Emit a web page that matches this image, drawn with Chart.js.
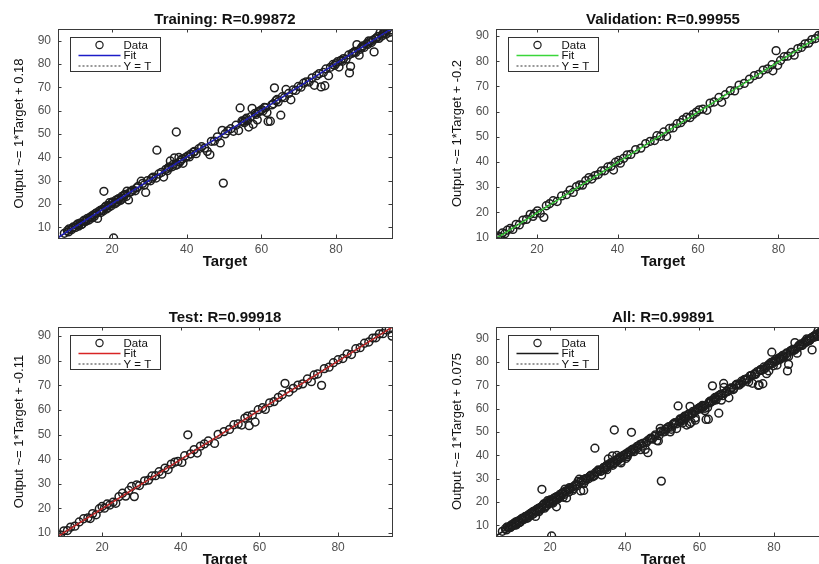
<!DOCTYPE html>
<html><head><meta charset="utf-8">
<script src="https://cdn.jsdelivr.net/npm/chart.js@4.4.0/dist/chart.umd.min.js"></script>
<style>
html,body{margin:0;padding:0;background:#fff;overflow:hidden;width:819px;height:564px;position:relative;}
canvas{position:absolute;}
</style></head><body>
<canvas id="c0" width="400" height="275" style="left:0px;top:0px"></canvas>
<canvas id="c1" width="400" height="275" style="left:438px;top:0px"></canvas>
<canvas id="c2" width="400" height="275" style="left:0px;top:298px"></canvas>
<canvas id="c3" width="400" height="275" style="left:438px;top:298px"></canvas>
<script>
// ---------- data ----------
const panelTitles = ['Training: R=0.99872', 'Validation: R=0.99955', 'Test: R=0.99918', 'All: R=0.99891'];
const yAxisLabels = ['Output ~= 1*Target + 0.18', 'Output ~= 1*Target + -0.2', 'Output ~= 1*Target + -0.11', 'Output ~= 1*Target + 0.075'];
const xAxisLabel = 'Target';
const fitSlopes = [1, 1, 1, 1];
const fitIntercepts = [0.18, -0.2, -0.11, 0.075];
const legendLabels = ['Data', 'Fit', 'Y = T'];
const xTickValues = [20, 40, 60, 80];
const yTickValues = [10, 20, 30, 40, 50, 60, 70, 80, 90];

// [Target, Output]
const trainingData = [
[7.2,7.5],[8.0,8.6],[8.3,8.1],[8.5,9.4],[9.1,9.0],[9.4,9.8],[9.6,10.2],[10.2,10.0],[10.5,11.1],[10.8,11.5],[11.0,10.6],
[11.4,11.9],[11.7,11.2],[12.0,11.5],[12.3,12.8],[12.6,13.1],[12.9,12.6],[13.1,12.9],[13.4,13.9],[13.8,13.2],[14.0,14.2],
[14.3,14.6],[14.6,14.1],[14.9,15.3],[15.2,14.7],[15.5,15.9],[15.8,16.2],[16.1,13.9],[16.5,16.9],[16.8,17.3],[17.0,16.4],
[17.4,17.8],[17.6,17.1],[17.8,25.5],[18.1,18.7],[18.3,19.1],[18.5,17.9],[18.9,19.5],[19.0,18.6],[19.3,20.6],[19.7,19.2],
[19.9,20.3],[20.1,21.0],[20.4,5.5],[20.6,20.1],[20.9,20.4],[21.0,21.7],[21.4,20.9],[21.6,22.1],[21.8,22.4],[22.2,21.6],
[22.4,22.0],[22.6,23.3],[23.0,22.6],[23.2,23.8],[23.5,24.2],[23.8,23.3],[24.0,25.6],[24.4,21.8],[24.8,25.1],[25.1,25.4],
[25.5,26.0],[26.2,25.7],[26.6,27.0],[27.0,27.6],[27.8,29.8],[28.2,28.9],[28.6,28.2],[29.0,25.0],[29.5,30.1],[30.3,30.0],
[30.6,31.0],[31.0,31.6],[31.8,31.2],[32.0,43.1],[32.5,32.9],[33.2,33.6],[33.8,31.6],[34.4,34.9],[34.8,34.3],[35.0,35.4],
[35.3,36.0],[35.6,38.5],[36.1,36.0],[36.4,37.1],[36.7,39.8],[37.0,36.6],[37.2,50.9],[37.5,37.0],[37.9,40.0],[38.1,38.0],
[38.4,38.7],[38.8,39.4],[39.0,37.5],[39.6,39.9],[40.3,40.7],[40.7,40.2],[41.0,41.4],[41.8,42.3],[42.1,42.6],[42.5,41.6],
[43.3,43.8],[44.0,44.6],[44.8,44.0],[45.5,42.6],[46.2,41.2],[46.6,46.9],[47.4,47.0],[48.2,48.8],[49.0,46.2],[49.5,51.6],
[49.8,29.0],[50.3,50.1],[51.0,51.4],[51.8,52.3],[52.5,51.2],[53.2,53.8],[53.9,51.5],[54.3,61.2],[54.8,55.6],[55.1,55.5],
[55.4,54.9],[55.7,56.2],[56.0,56.8],[56.3,55.8],[56.6,53.0],[57.2,57.5],[57.5,61.0],[57.8,54.2],[58.3,58.9],[58.6,58.4],
[58.9,56.1],[59.2,59.6],[59.5,59.8],[60.1,60.5],[60.4,59.9],[60.8,61.4],[61.1,61.3],[61.5,59.2],[61.8,55.4],[62.4,55.5],
[62.8,62.5],[63.2,63.0],[63.5,69.8],[63.9,64.3],[64.2,64.8],[64.5,63.8],[65.2,58.1],[65.6,66.0],[66.2,65.6],[66.6,69.1],
[67.3,67.4],[67.9,64.7],[68.5,68.9],[69.2,68.7],[69.9,70.4],[70.6,70.1],[71.3,71.8],[72.0,72.4],[72.8,72.3],[73.6,74.1],
[74.2,70.9],[74.8,75.0],[75.5,75.9],[76.0,70.2],[76.6,76.4],[77.0,70.7],[77.3,77.9],[78.0,75.0],[78.5,78.6],[79.2,79.8],
[79.6,79.4],[80.0,80.2],[80.4,81.0],[80.8,78.7],[81.3,81.6],[81.7,81.2],[82.0,82.3],[82.7,82.1],[83.4,83.9],[83.6,76.2],
[83.9,79.0],[84.3,84.6],[84.7,84.9],[85.0,85.4],[85.3,85.0],[85.6,88.3],[86.2,83.8],[86.5,86.3],[86.9,87.2],[87.2,87.8],
[87.5,87.1],[88.2,88.7],[88.5,88.4],[88.8,89.9],[89.1,89.6],[89.5,89.2],[89.9,90.2],[90.2,85.2],[90.6,90.9],[90.9,91.2],
[91.2,91.8],[91.5,91.0],[91.8,93.4],[92.3,92.0],[92.6,92.9],[92.9,94.1],[93.1,93.4],[93.4,92.8],[93.8,95.0],[94.3,93.6],
[94.6,91.4]
];
const validationData = [
[9.8,10.0],[10.3,10.6],[10.9,10.2],[11.4,11.8],[12.0,11.5],[12.6,12.9],[13.3,13.6],[14.0,13.2],[14.8,15.2],[15.6,15.0],
[16.5,16.9],[17.4,17.2],[18.3,19.2],[19.0,18.4],[19.4,19.5],[20.1,20.6],[20.8,19.6],[21.7,18.0],[22.3,22.6],[23.1,23.4],
[24.0,24.6],[25.0,24.3],[26.1,26.5],[27.3,27.0],[28.2,28.8],[29.0,27.9],[29.8,30.2],[30.6,30.9],[31.3,30.8],[32.1,32.6],
[32.9,33.8],[33.6,33.2],[34.4,34.6],[35.2,35.0],[36.0,36.4],[36.8,36.5],[37.6,38.0],[38.4,38.3],[39.0,36.8],[39.5,39.9],
[40.3,40.6],[40.7,39.5],[41.5,41.4],[42.4,42.8],[43.3,43.0],[44.5,44.9],[45.8,45.5],[47.0,47.3],[48.1,48.2],[49.2,48.5],
[49.8,50.4],[50.7,50.2],[51.5,51.9],[52.2,50.1],[52.9,53.3],[53.8,53.5],[54.8,55.2],[55.7,55.6],[56.3,56.8],[57.2,57.8],
[58.0,57.6],[58.8,58.9],[59.6,59.8],[60.3,60.7],[61.2,61.0],[62.2,60.5],[63.0,63.4],[64.0,63.8],[65.2,65.6],[65.9,63.7],
[66.8,66.7],[68.0,68.3],[69.1,68.2],[70.2,70.5],[71.5,71.2],[72.8,72.9],[74.0,74.3],[75.1,74.8],[76.2,76.5],[77.3,77.0],
[78.4,78.6],[78.6,76.2],[79.4,84.2],[79.8,78.4],[80.5,80.3],[81.4,81.8],[82.3,82.0],[83.2,83.5],[83.9,82.4],[84.8,85.0],
[85.7,85.5],[86.6,86.9],[87.5,87.2],[88.3,88.6],[89.2,89.0],[90.0,90.3],[90.8,90.6],[91.6,91.9],[92.4,92.2],[92.8,92.8]
];
const testData = [
[8.8,9.0],[9.4,9.2],[10.3,10.9],[11.2,11.0],[12.0,12.4],[13.1,12.8],[14.2,14.5],[15.3,15.8],[16.4,16.2],[17.0,15.9],
[17.6,17.9],[18.5,17.4],[19.3,19.9],[20.0,20.8],[20.6,20.1],[21.3,21.8],[22.0,21.4],[22.8,22.5],[23.5,22.1],[24.3,24.8],
[25.2,26.2],[26.0,25.0],[26.8,27.3],[27.5,28.9],[28.2,24.8],[28.8,29.6],[29.5,29.3],[30.8,31.2],[31.8,31.5],[32.7,33.2],
[33.6,33.3],[34.5,34.9],[35.2,33.9],[36.0,36.4],[36.8,35.8],[37.6,38.0],[38.5,38.8],[39.3,39.1],[40.3,38.7],[41.0,41.4],
[41.8,49.9],[42.5,42.2],[43.4,43.9],[44.2,42.5],[45.0,45.3],[46.0,46.2],[47.0,47.4],[48.6,46.4],[49.5,50.1],[51.0,51.2],
[52.4,52.1],[53.5,54.0],[54.6,54.3],[55.5,53.9],[56.3,56.7],[57.0,57.5],[57.4,53.6],[58.2,58.0],[58.9,55.1],[59.7,60.1],
[60.8,60.9],[61.5,60.2],[62.6,62.9],[63.7,63.4],[64.8,65.1],[65.8,66.2],[66.5,70.8],[67.5,67.3],[68.6,68.8],[69.8,70.1],
[71.0,70.6],[72.2,72.6],[73.2,71.5],[73.9,74.2],[74.8,74.6],[75.8,70.0],[76.5,76.8],[77.7,77.4],[78.8,79.2],[80.0,80.4],
[81.2,80.9],[82.3,82.8],[83.4,82.5],[84.5,84.9],[85.6,85.3],[86.7,87.1],[87.8,87.6],[88.8,89.2],[89.6,89.3],[90.5,90.9],
[91.4,91.0],[92.2,92.5],[93.0,93.2],[93.7,90.0]
];
const allData = trainingData.concat(validationData, testData);

// ---------- styles ----------
const fitColors = ['#1c1cc8', '#3ad63a', '#d82424', '#1a1a1a'];
const FONT = "'Liberation Sans', Arial, sans-serif";
const NARROW = "'Liberation Sans Narrow', 'Arial Narrow', 'Liberation Sans', sans-serif";
Chart.defaults.font.family = FONT;

const framePlugin = {
  id: 'matlabFrame',
  afterDraw(chart) {
    const ctx = chart.ctx, ca = chart.chartArea;
    const xs = chart.scales.x, ys = chart.scales.y;
    ctx.save();
    ctx.strokeStyle = '#3a3a3a';
    ctx.lineWidth = 1;
    const tl = 3.5;
    ctx.beginPath();
    xTickValues.forEach(v => {
      const px = Math.round(xs.getPixelForValue(v)) + 0.5;
      ctx.moveTo(px, ca.bottom); ctx.lineTo(px, ca.bottom - tl);
      ctx.moveTo(px, ca.top); ctx.lineTo(px, ca.top + tl);
    });
    yTickValues.forEach(v => {
      const py = Math.round(ys.getPixelForValue(v)) + 0.5;
      ctx.moveTo(ca.left, py); ctx.lineTo(ca.left + tl, py);
      ctx.moveTo(ca.right, py); ctx.lineTo(ca.right - tl, py);
    });
    ctx.stroke();
    ctx.strokeStyle = '#3a3a3a';
    ctx.strokeRect(Math.round(ca.left) + 0.5, Math.round(ca.top) + 0.5, Math.round(ca.right - ca.left), Math.round(ca.bottom - ca.top));
    // legend
    const bx = Math.round(ca.left) + 12.5, by = Math.round(ca.top) + 8.5, bw = 90, bh = 34;
    ctx.fillStyle = '#fff';
    ctx.fillRect(bx, by, bw, bh);
    ctx.strokeStyle = '#333';
    ctx.strokeRect(bx, by, bw, bh);
    const ds = chart.data.datasets;
    const rows = [7.5, 18, 28.5];
    ctx.font = '11.5px ' + FONT;
    ctx.textBaseline = 'middle';
    ctx.textAlign = 'left';
    ds.forEach((d, i) => {
      const cy = by + rows[i];
      if (i === 0) {
        ctx.beginPath();
        ctx.strokeStyle = d.pointBorderColor;
        ctx.lineWidth = 1.2;
        ctx.arc(bx + 29, cy, 3.6, 0, Math.PI * 2);
        ctx.stroke();
      } else {
        ctx.beginPath();
        ctx.strokeStyle = d.borderColor;
        ctx.lineWidth = d.borderWidth;
        ctx.setLineDash(d.borderDash || []);
        ctx.moveTo(bx + 8, cy); ctx.lineTo(bx + 50, cy);
        ctx.stroke();
        ctx.setLineDash([]);
      }
      ctx.fillStyle = '#111';
      ctx.fillText(d.label, bx + 53, cy + 0.5);
    });
    ctx.restore();
  }
};

function makePanel(idx, pts) {
  const flat = pts.flat();
  const lo = Math.min(...flat), hi = Math.max(...flat);
  const m = fitSlopes[idx], b = fitIntercepts[idx];
  const dataPts = pts.map(p => ({x: p[0], y: p[1]}));
  const fitPts = [{x: lo, y: m * lo + b}, {x: hi, y: m * hi + b}];
  const ytPts = [{x: lo, y: lo}, {x: hi, y: hi}];
  new Chart(document.getElementById('c' + idx), {
    type: 'scatter',
    data: {datasets: [
      {label: legendLabels[0], data: dataPts, showLine: false, pointStyle: 'circle', pointRadius: 3.9,
       pointBorderColor: '#1e1e1e', pointBackgroundColor: 'rgba(0,0,0,0)', pointBorderWidth: 1.5, order: 3},
      {label: legendLabels[1], data: fitPts, showLine: true, borderColor: fitColors[idx], borderWidth: 1.7,
       pointRadius: 0, order: 2},
      {label: legendLabels[2], data: ytPts, showLine: true, borderColor: '#333', borderWidth: 1,
       borderDash: [2, 2], pointRadius: 0, order: 1}
    ]},
    options: {
      responsive: false, animation: false, events: [],
      layout: {padding: {right: 8}},
      plugins: {
        legend: {display: false}, tooltip: {enabled: false},
        title: {display: true, text: panelTitles[idx], fullSize: false, color: '#111',
                font: {size: 15, weight: 'bold'}, padding: {top: 11, bottom: 0}}
      },
      scales: {
        x: {type: 'linear', min: lo, max: hi,
            afterBuildTicks: s => { s.ticks = xTickValues.map(v => ({value: v})); },
            afterFit: s => { s.height = 37; },
            grid: {display: false, drawTicks: false}, border: {display: false},
            ticks: {padding: 4, color: '#505050', font: {size: 12}},
            title: {display: true, text: xAxisLabel, color: '#111', font: {size: 15, weight: 'bold'},
                    padding: {top: 0, bottom: 4}}},
        y: {type: 'linear', min: lo, max: hi,
            afterBuildTicks: s => { s.ticks = yTickValues.map(v => ({value: v})); },
            afterFit: s => { s.width = 58; },
            grid: {display: false, drawTicks: false}, border: {display: false},
            ticks: {padding: 7, color: '#505050', font: {size: 12}},
            title: {display: true, text: yAxisLabels[idx], color: '#111', font: {size: 13, family: NARROW},
                    padding: {top: 12, bottom: 0}}}
      }
    },
    plugins: [framePlugin]
  });
}

makePanel(0, trainingData);
makePanel(1, validationData);
makePanel(2, testData);
makePanel(3, allData);
</script>
</body></html>
